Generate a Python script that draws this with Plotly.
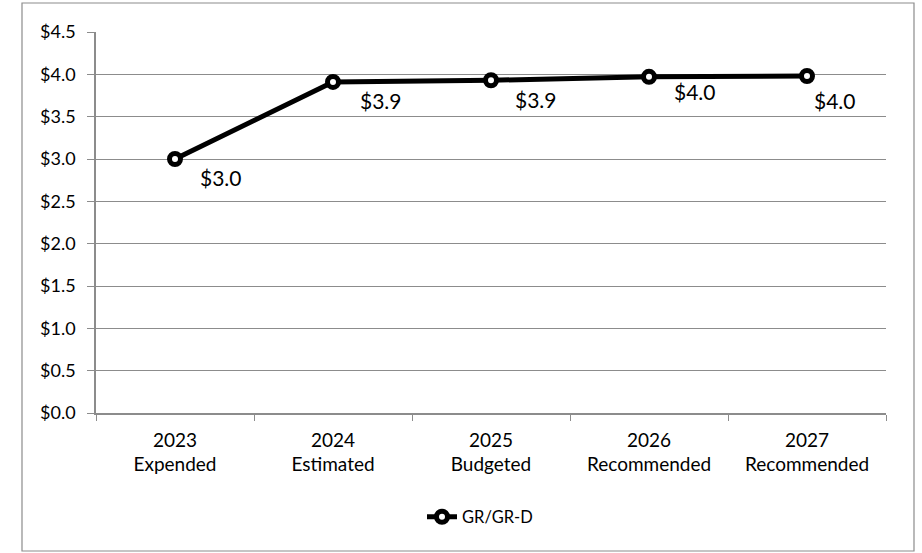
import plotly.graph_objects as go

categories = ["2023<br>Expended", "2024<br>Estimated", "2025<br>Budgeted",
              "2026<br>Recommended", "2027<br>Recommended"]
values = [3.00, 3.91, 3.93, 3.97, 3.98]
labels = ["$3.0", "$3.9", "$3.9", "$4.0", "$4.0"]
series_name = "GR/GR-D"
y_ticks = [0, 0.5, 1.0, 1.5, 2.0, 2.5, 3.0, 3.5, 4.0, 4.5]
y_tick_labels = ["$%.1f" % v for v in y_ticks]

# label offsets (pixels) relative to each point: style only
label_dx = [23, 25, 22, 23, 5]
label_dy = [-18, -19, -19, -15, -24]

FONT = "Lato, Open Sans, sans-serif"
W, H = 922, 553
L, R, T, B = 96, 36, 32, 140
pw, ph = W - L - R, H - T - B

fig = go.Figure()
fig.add_trace(go.Scatter(
    x=categories, y=values, name=series_name,
    mode="lines+markers",
    line=dict(color="black", width=5),
    marker=dict(symbol="circle", size=11, color="white",
                line=dict(color="black", width=5)),
    cliponaxis=False,
))

for cat, val, lab, dx, dy in zip(categories, values, labels, label_dx, label_dy):
    fig.add_annotation(x=cat, y=val, text=lab, showarrow=False,
                       xanchor="left", yanchor="middle",
                       xshift=dx, yshift=dy,
                       font=dict(family=FONT, size=21, color="black"))

def px_x(p):
    return (p - L) / pw

def px_y(p):
    return (H - B - p) / ph

fig.update_layout(
    width=W, height=H,
    margin=dict(l=L, r=R, t=T, b=B),
    paper_bgcolor="white", plot_bgcolor="white",
    font=dict(family=FONT, size=18, color="black"),
    showlegend=True,
    legend=dict(orientation="h", x=px_x(422), xanchor="left",
                y=px_y(517), yanchor="middle",
                font=dict(family=FONT, size=16.5, color="black")),
    xaxis=dict(
        type="category", showgrid=False, showline=True,
        linecolor="#8c8c8c", linewidth=1.5,
        ticks="outside", tickson="boundaries", ticklen=6,
        tickcolor="#8c8c8c", tickfont=dict(family=FONT, size=19),
        ticklabelstandoff=9,
        range=[-0.5, 4.5],
    ),
    yaxis=dict(
        range=[0, 4.5], tickvals=y_ticks, ticktext=y_tick_labels,
        showgrid=True, gridcolor="#8c8c8c", gridwidth=1,
        showline=True, linecolor="#8c8c8c", linewidth=1.5,
        ticks="outside", ticklen=7, tickcolor="#8c8c8c",
        tickfont=dict(family=FONT, size=18), zeroline=False,
        ticklabelstandoff=8,
    ),
    shapes=[dict(type="rect", xref="paper", yref="paper",
                 x0=px_x(22), x1=px_x(914), y0=px_y(551), y1=px_y(3),
                 line=dict(color="#8c8c8c", width=1.2),
                 fillcolor="rgba(0,0,0,0)", layer="below")],
)

fig.write_html("out.html", config={"displayModeBar": False},
               post_script="document.body.style.margin='0';document.body.style.overflow='hidden';")
